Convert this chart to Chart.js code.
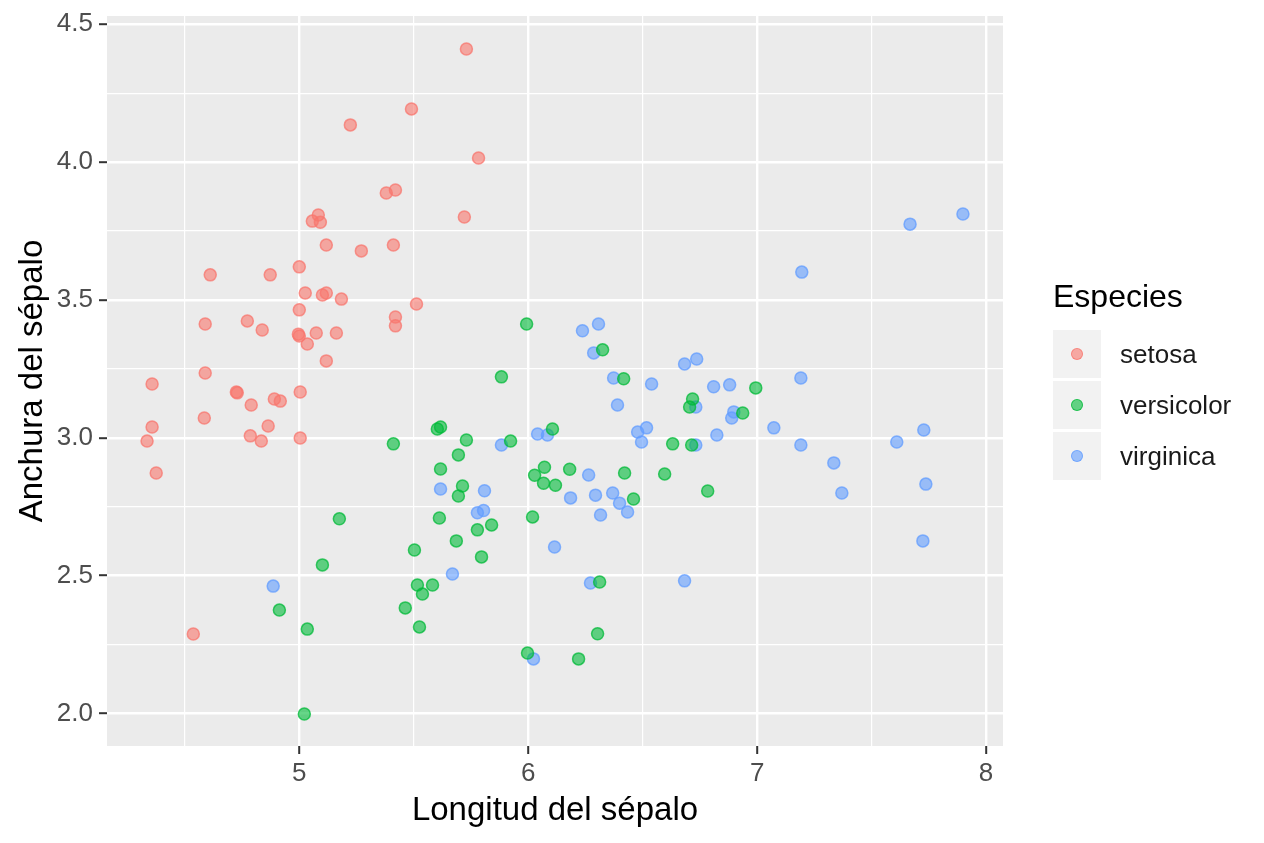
<!DOCTYPE html>
<html>
<head>
<meta charset="utf-8">
<script src="https://cdn.jsdelivr.net/npm/chart.js@4.4.1/dist/chart.umd.min.js"></script>
<style>
  html, body { margin: 0; padding: 0; background: #ffffff; }
  #wrap { position: relative; width: 1264px; height: 843px; font-family: "Liberation Sans", Arial, sans-serif; }
  #legend { position: absolute; left: 1053px; top: 276px; }
  #legend .title { font-size: 32px; color: #000; margin-bottom: 14px; line-height: 40px; height: 40px; }
  #legend .item { display: flex; align-items: center; height: 48px; margin-bottom: 3px; }
  #legend .key { width: 48px; height: 48px; background: #F2F2F2; position: relative; }
  #legend .key span { position: absolute; left: 17.5px; top: 17.5px; width: 10px; height: 10px; border-radius: 50%; border-width: 1.5px; border-style: solid; }
  #legend .lab { font-size: 26px; color: #1a1a1a; margin-left: 19px; }
</style>
</head>
<body>
<div id="wrap">
  <canvas id="c"></canvas>
  <div id="legend"></div>
</div>
<script>
// ---- data ----
const species = ["setosa", "versicolor", "virginica"];
const legendTitle = "Especies";
const xTitle = "Longitud del sépalo";
const yTitle = "Anchura del sépalo";

const setosaX = [5.730,5.490,5.223,5.783,5.380,5.420,5.721,5.083,5.057,5.092,5.118,5.411,5.271,4.611,4.873,5.000,5.026,5.101,5.118,5.184,5.512,5.000,5.420,5.420,4.589,4.773,4.838,4.996,5.000,5.074,5.162,5.035,5.118,4.589,4.357,4.725,4.729,5.004,4.790,4.891,4.917,4.585,4.357,4.864,4.786,4.335,4.834,5.004,4.375,4.537];
const setosaY = [4.410,4.193,4.135,4.015,3.888,3.899,3.801,3.808,3.786,3.782,3.699,3.699,3.678,3.591,3.591,3.620,3.525,3.518,3.525,3.503,3.485,3.464,3.438,3.406,3.413,3.424,3.391,3.376,3.369,3.380,3.380,3.340,3.279,3.235,3.195,3.166,3.163,3.166,3.119,3.141,3.133,3.072,3.039,3.043,3.007,2.988,2.988,2.999,2.872,2.288];

const versicolorX = [5.993,5.883,5.603,5.617,5.411,5.730,5.695,5.923,5.617,5.713,5.695,5.612,6.019,5.778,5.840,5.686,5.503,5.796,5.516,5.582,5.538,5.463,5.525,5.175,5.101,4.913,5.035,5.022,5.997,6.220,6.303,6.312,6.071,6.028,6.067,6.119,6.181,6.106,6.325,6.417,6.421,6.460,6.596,6.631,6.714,6.718,6.705,6.937,6.994,6.784];
const versicolorY = [3.413,3.221,3.032,3.039,2.978,2.992,2.938,2.988,2.887,2.825,2.789,2.709,2.713,2.666,2.684,2.626,2.593,2.568,2.466,2.466,2.433,2.383,2.314,2.706,2.539,2.375,2.306,1.998,2.219,2.198,2.289,2.477,2.893,2.864,2.835,2.828,2.886,3.032,3.319,3.214,2.872,2.778,2.869,2.978,2.974,3.141,3.112,3.090,3.181,2.807];

const virginicaX = [4.886,5.617,5.669,5.778,5.805,5.809,5.883,6.041,6.084,6.115,6.023,6.185,6.264,6.294,6.369,6.399,6.434,6.316,6.272,6.237,6.307,6.286,6.373,6.390,6.539,6.478,6.517,6.495,6.683,6.736,6.810,6.880,6.732,6.898,6.889,6.824,6.732,6.683,7.191,7.073,7.191,7.335,7.370,7.610,7.728,7.737,7.724,7.195,7.668,7.899];
const virginicaY = [2.462,2.814,2.506,2.728,2.736,2.808,2.974,3.014,3.010,2.604,2.198,2.782,2.865,2.792,2.800,2.763,2.731,2.720,2.473,3.388,3.413,3.308,3.217,3.119,3.195,3.021,3.036,2.985,3.268,3.286,3.185,3.192,3.112,3.094,3.072,3.010,2.974,2.481,3.217,3.036,2.974,2.909,2.800,2.985,3.028,2.832,2.626,3.601,3.775,3.812];

const xMajorTicks = [5, 6, 7, 8];
const xMinorTicks = [4.5, 5.5, 6.5, 7.5];
const yMajorTicks = [2.0, 2.5, 3.0, 3.5, 4.0, 4.5];
const yMinorTicks = [2.25, 2.75, 3.25, 3.75, 4.25];
const xRange = [4.160, 8.074];
const yRange = [1.882, 4.530];

// ---- styles ----
const colors = ["248,118,109", "0,186,56", "97,156,255"];
const FONT = "'Liberation Sans', Arial, sans-serif";

function zip(xs, ys) { return xs.map((x, i) => ({ x: x, y: ys[i] })); }
const seriesData = [zip(setosaX, setosaY), zip(versicolorX, versicolorY), zip(virginicaX, virginicaY)];

const panelBg = {
  id: 'panelBg',
  beforeDraw(chart) {
    const a = chart.chartArea, ctx = chart.ctx;
    ctx.save();
    ctx.fillStyle = '#EBEBEB';
    ctx.fillRect(a.left, a.top, a.right - a.left, a.bottom - a.top);
    ctx.restore();
  }
};

function isMajor(v, majors) { return majors.some(m => Math.abs(m - v) < 1e-6); }

function makeScale(axis, range, majors, minors, title, fitSize) {
  const all = majors.concat(minors).sort((a, b) => a - b);
  return {
    type: 'linear',
    min: range[0],
    max: range[1],
    afterBuildTicks(scale) { scale.ticks = all.map(v => ({ value: v })); },
    afterFit(scale) {
      if (axis === 'x') scale.height = fitSize; else scale.width = fitSize;
      scale.paddingTop = 0; scale.paddingBottom = 0;
      scale.paddingLeft = 0; scale.paddingRight = 0;
    },
    border: { display: false },
    grid: {
      color: '#FFFFFF',
      lineWidth: ctx => (ctx.tick && isMajor(ctx.tick.value, majors)) ? 2.4 : 1.2,
      drawTicks: true,
      tickLength: 8,
      tickWidth: 2,
      tickColor: ctx => (ctx.tick && isMajor(ctx.tick.value, majors)) ? '#333333' : 'rgba(0,0,0,0)'
    },
    ticks: {
      autoSkip: false,
      maxRotation: 0,
      padding: axis === 'x' ? 4 : 6,
      color: '#4D4D4D',
      font: { family: FONT, size: 26 },
      callback: function (v) {
        if (!isMajor(v, majors)) return '';
        return axis === 'x' ? String(v) : v.toFixed(1);
      }
    },
    title: {
      display: true,
      text: title,
      color: '#000000',
      font: { family: FONT, size: 33 },
      padding: axis === 'x' ? { top: 0, bottom: 12 } : { top: 13, bottom: 0 }
    }
  };
}

new Chart(document.getElementById('c'), {
  type: 'scatter',
  data: {
    datasets: species.map((s, i) => ({
      label: s,
      data: seriesData[i],
      backgroundColor: 'rgba(' + colors[i] + ',0.6)',
      borderColor: 'rgba(' + colors[i] + ',0.75)',
      borderWidth: 1.5,
      pointRadius: 6,
      pointHoverRadius: 6
    }))
  },
  options: {
    responsive: true,
    maintainAspectRatio: false,
    animation: false,
    layout: { padding: { left: 0, top: 16, right: 261, bottom: 0 } },
    plugins: { legend: { display: false }, tooltip: { enabled: false } },
    scales: {
      x: makeScale('x', xRange, xMajorTicks, xMinorTicks, xTitle, 97),
      y: makeScale('y', yRange, yMajorTicks, yMinorTicks, yTitle, 107)
    }
  },
  plugins: [panelBg]
});

// ---- HTML legend ----
const lg = document.getElementById('legend');
let html = '<div class="title">' + legendTitle + '</div>';
species.forEach((s, i) => {
  html += '<div class="item"><div class="key"><span style="background:rgba(' + colors[i] + ',0.6);border-color:rgba(' + colors[i] + ',0.75)"></span></div><div class="lab">' + s + '</div></div>';
});
lg.innerHTML = html;
</script>
<style>#wrap canvas { width: 1264px !important; height: 843px !important; }</style>
</body>
</html>
